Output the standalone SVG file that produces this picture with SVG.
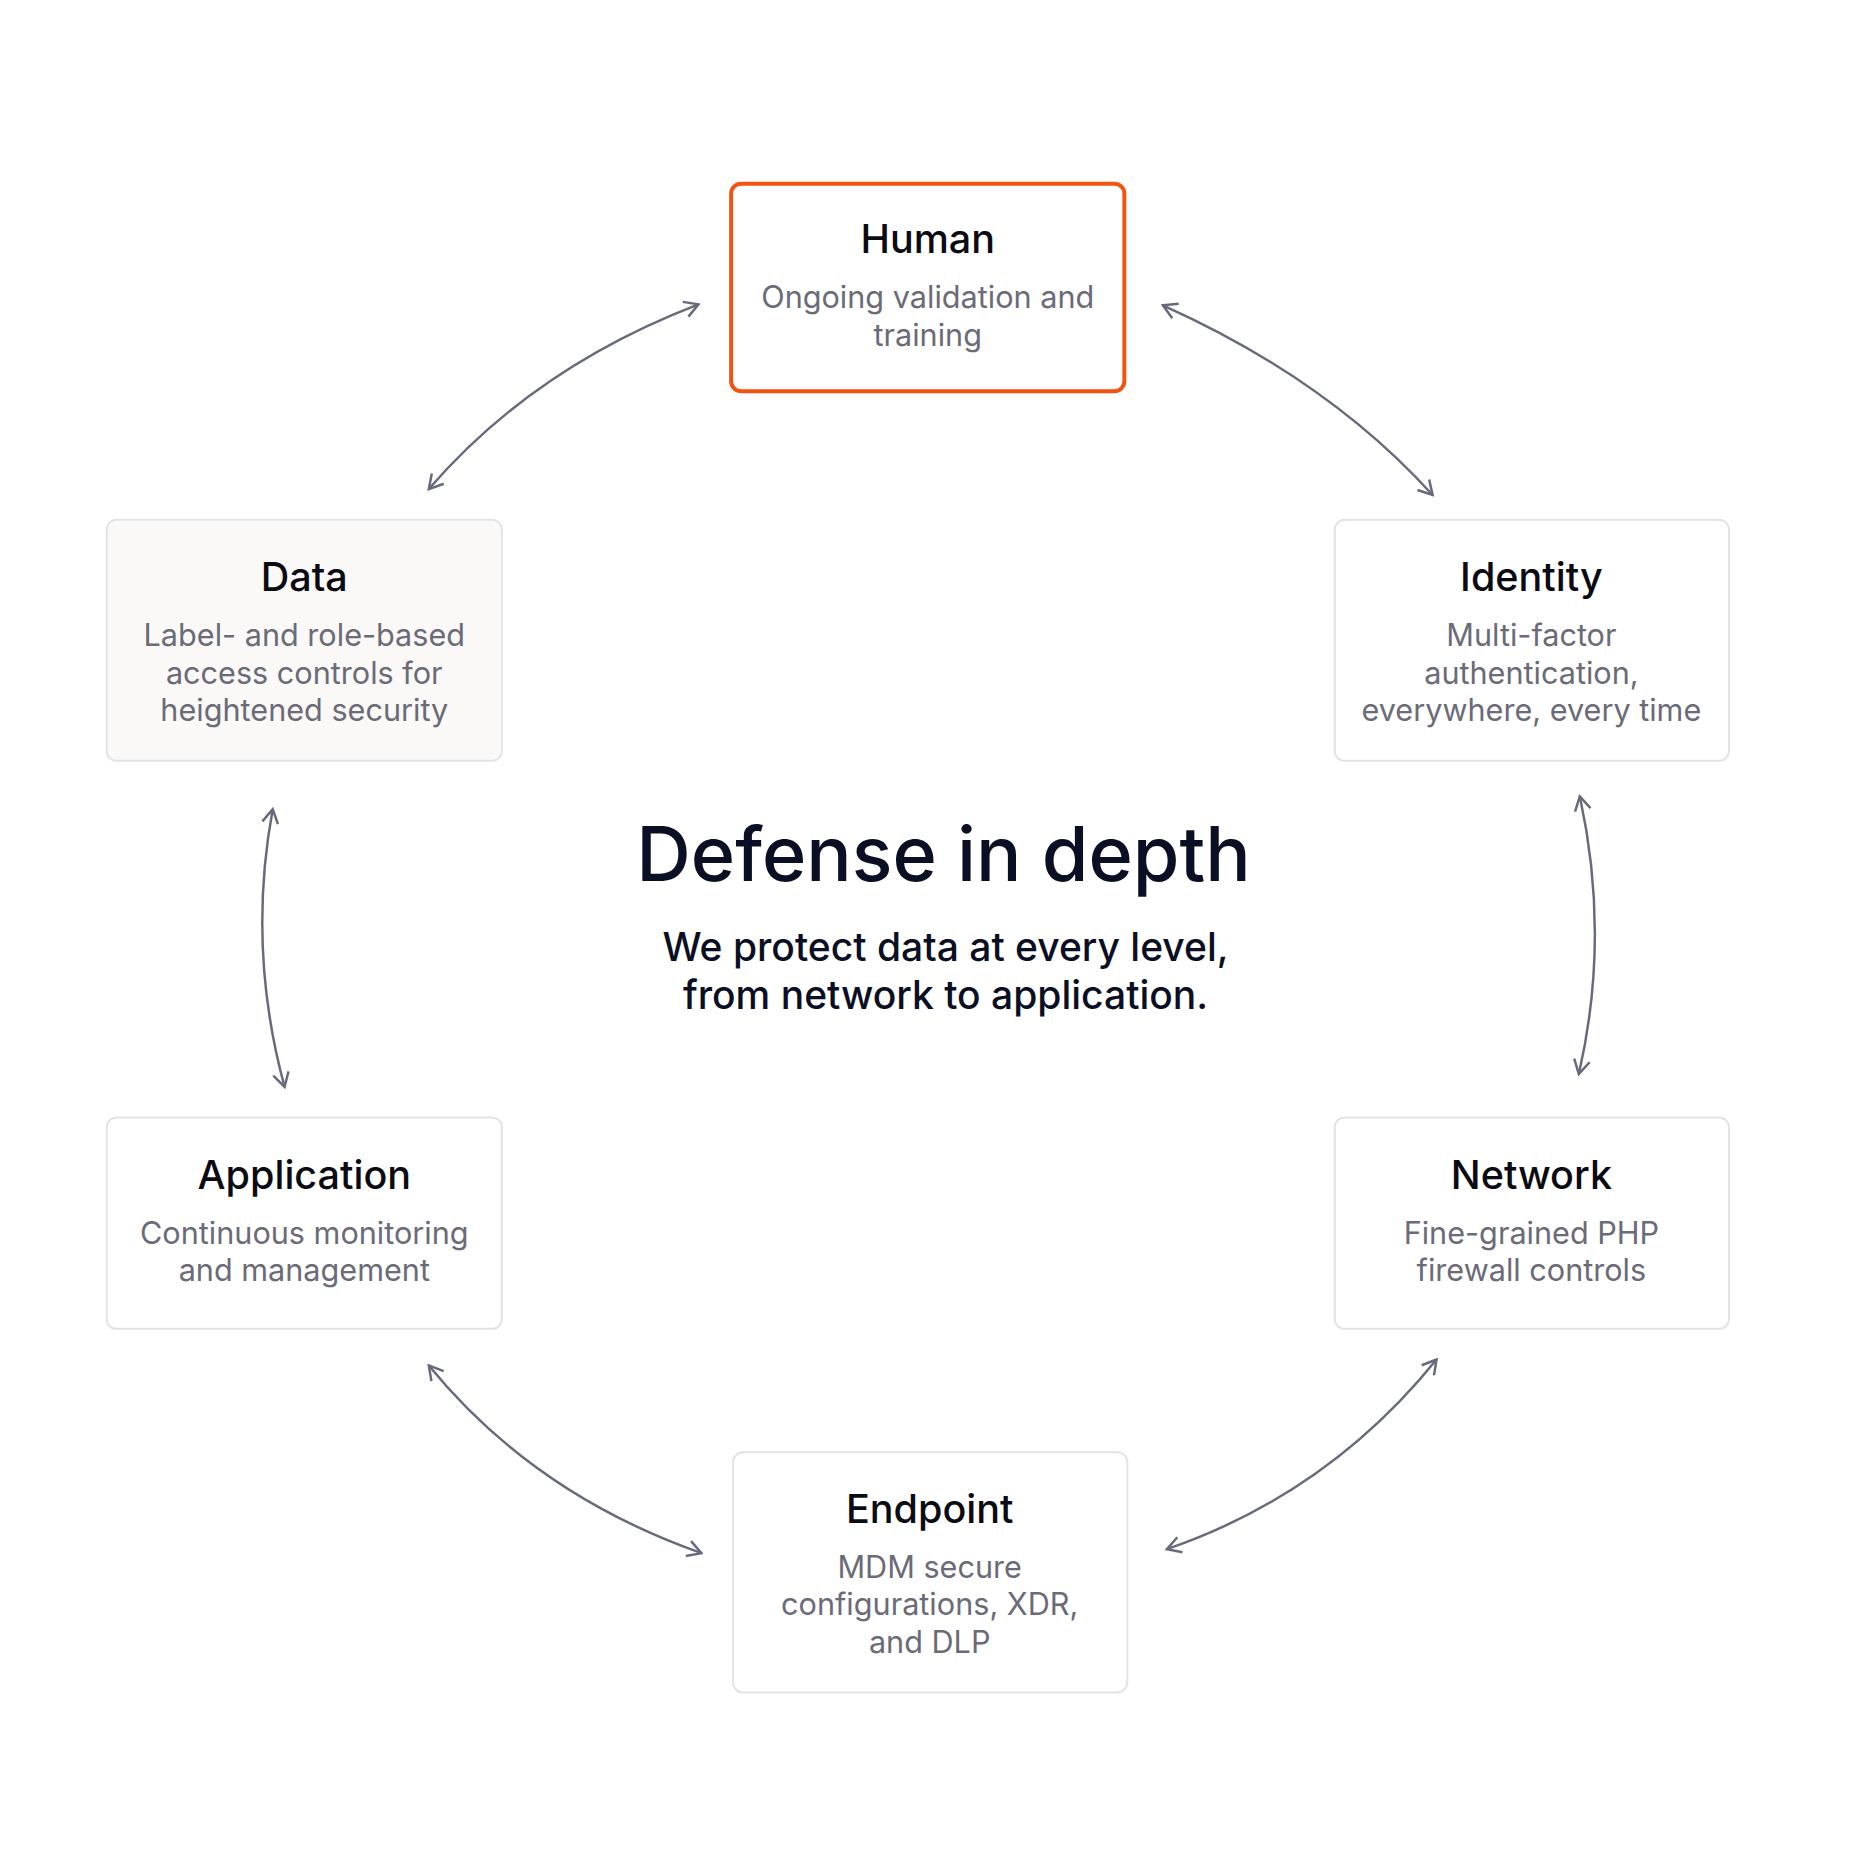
<svg xmlns="http://www.w3.org/2000/svg" width="1858" height="1857" viewBox="0 0 1858 1857">
<style>
.box{fill:#fff;stroke:#e3e3e6;stroke-width:2}
.t{font-family:Inter,"Liberation Sans",sans-serif;font-size:40px;font-weight:500;fill:#0b0b14;text-anchor:middle}
.d{font-family:Inter,"Liberation Sans",sans-serif;font-size:31px;fill:#6b6b78;text-anchor:middle}
.c{fill:none;stroke:#676a7a;stroke-width:2.5}
</style>
<defs>
<marker id="a" viewBox="0 0 20 20" refX="18" refY="10" markerWidth="20" markerHeight="20" markerUnits="userSpaceOnUse" orient="auto-start-reverse">
<path d="M4 2 L18 10 L4 18" fill="none" stroke="#676a7a" stroke-width="2.5"/>
</marker>
</defs>
<rect width="1858" height="1857" fill="#fff"/>
<g transform="scale(0.988)">
<g id="connectors">
<path class="c" marker-start="url(#a)" marker-end="url(#a)" d="M707 308 Q540 372 434 495"/>
<path class="c" marker-start="url(#a)" marker-end="url(#a)" d="M1177 309 Q1344 384 1450 501"/>
<path class="c" marker-start="url(#a)" marker-end="url(#a)" d="M1599 806 Q1630 948 1598 1087"/>
<path class="c" marker-start="url(#a)" marker-end="url(#a)" d="M276 819 Q250 960 288 1100"/>
<path class="c" marker-start="url(#a)" marker-end="url(#a)" d="M434 1382 Q540 1512 710 1572"/>
<path class="c" marker-start="url(#a)" marker-end="url(#a)" d="M1454 1376 Q1344 1512 1181 1568"/>
</g>
<g id="human">
<rect x="740" y="186" width="398" height="210" rx="10" fill="#fff" stroke="#f4520f" stroke-width="4"/>
<text class="t" x="939" y="256">Human</text>
<text class="d" x="939" y="312">Ongoing validation and</text>
<text class="d" x="939" y="350">training</text>
</g>
<g id="data">
<rect class="box" x="108" y="526" width="400" height="244" rx="10" style="fill:#faf9f7"/>
<text class="t" x="308" y="598">Data</text>
<text class="d" x="308" y="654">Label- and role-based</text>
<text class="d" x="308" y="692">access controls for</text>
<text class="d" x="308" y="730">heightened security</text>
</g>
<g id="identity">
<rect class="box" x="1351" y="526" width="399" height="244" rx="10"/>
<text class="t" x="1550" y="598">Identity</text>
<text class="d" x="1550" y="654">Multi-factor</text>
<text class="d" x="1550" y="692">authentication,</text>
<text class="d" x="1550" y="730">everywhere, every time</text>
</g>
<g id="application">
<rect class="box" x="108" y="1131" width="400" height="214" rx="10"/>
<text class="t" x="308" y="1203">Application</text>
<text class="d" x="308" y="1259">Continuous monitoring</text>
<text class="d" x="308" y="1297">and management</text>
</g>
<g id="network">
<rect class="box" x="1351" y="1131" width="399" height="214" rx="10"/>
<text class="t" x="1550" y="1203">Network</text>
<text class="d" x="1550" y="1259">Fine-grained PHP</text>
<text class="d" x="1550" y="1297">firewall controls</text>
</g>
<g id="endpoint">
<rect class="box" x="742" y="1470" width="399" height="243" rx="10"/>
<text class="t" x="941" y="1541">Endpoint</text>
<text class="d" x="941" y="1597">MDM secure</text>
<text class="d" x="941" y="1635">configurations, XDR,</text>
<text class="d" x="941" y="1673">and DLP</text>
</g>
<g id="center">
<text x="955" y="892" font-family="Inter,'Liberation Sans',sans-serif" font-size="76.5" font-weight="500" fill="#0b0f24" text-anchor="middle">Defense in depth</text>
<text x="957" y="973" font-family="Inter,'Liberation Sans',sans-serif" font-size="39.5" font-weight="500" fill="#0b0f24" text-anchor="middle">We protect data at every level,</text>
<text x="957" y="1021" font-family="Inter,'Liberation Sans',sans-serif" font-size="39.5" font-weight="500" fill="#0b0f24" text-anchor="middle">from network to application.</text>
</g>
</g>
</svg>
